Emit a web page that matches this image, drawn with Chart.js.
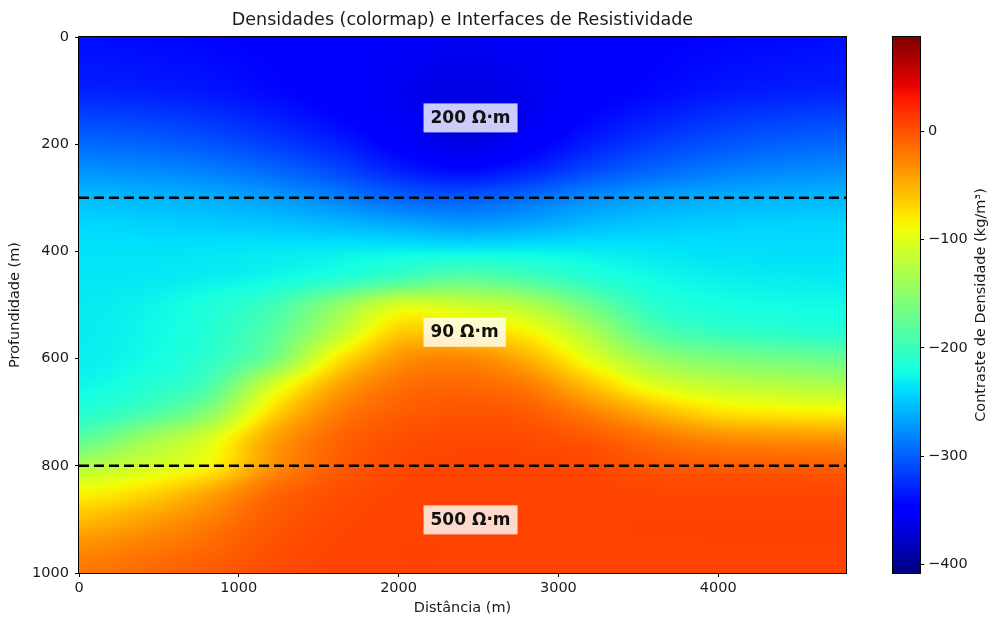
<!DOCTYPE html>
<html>
<head>
<meta charset="utf-8">
<script src="https://cdn.jsdelivr.net/npm/chart.js@4.4.1/dist/chart.umd.min.js"></script>
<style>
  html, body { margin: 0; padding: 0; background: #fff; }
  #wrap { position: relative; width: 992px; height: 617px; }
  #main { position: absolute; left: 0; top: 0; }
  #cbar { position: absolute; left: 880px; top: 0; }
</style>
</head>
<body>
<div id="wrap">
  <canvas id="main" width="992" height="617"></canvas>
  <canvas id="cbar" width="112" height="617"></canvas>
</div>
<script>
// grid positions (m)
const distCols = [0, 400, 800, 1200, 1600, 2000, 2400, 2800, 3200, 3600, 4000, 4400, 4800];
const depthRows = [0, 50, 100, 150, 200, 250, 300, 350, 400, 450, 500, 550, 600, 650, 700, 750, 800, 850, 900, 950, 1000];

// density contrast (kg/m3), one row per depth
const density = [
  [-340, -342, -345, -348, -352, -355, -358, -356, -352, -348, -345, -342, -340],
  [-336, -338, -341, -346, -352, -357, -361, -358, -352, -346, -341, -338, -336],
  [-330, -332, -336, -343, -351, -359, -365, -360, -351, -343, -336, -332, -330],
  [-313, -316, -322, -332, -344, -356, -367, -360, -344, -332, -322, -316, -313],
  [-295, -298, -305, -316, -330, -350, -365, -352, -332, -316, -306, -299, -296],
  [-275, -278, -284, -295, -310, -330, -342, -330, -310, -296, -286, -280, -277],
  [-255, -258, -262, -270, -283, -298, -302, -293, -278, -268, -262, -259, -258],
  [-242, -244, -247, -250, -256, -263, -270, -265, -255, -249, -246, -244, -243],
  [-236, -236, -235, -233, -231, -229, -229, -229, -231, -234, -237, -238, -238],
  [-234, -233, -230, -225, -214, -196, -180, -192, -212, -224, -229, -231, -232],
  [-232, -228, -218, -198, -152, -106, -112, -127, -170, -210, -220, -223, -224],
  [-231, -226, -214, -184, -126, -66, -70, -85, -132, -185, -203, -209, -214],
  [-230, -224, -208, -168, -83, -36, -28, -50, -98, -143, -160, -167, -173],
  [-226, -215, -192, -110, -47, -17, -12, -22, -59, -100, -118, -125, -131],
  [-213, -194, -156, -74, -25, -7, -2, -5, -25, -52, -75, -82, -85],
  [-180, -142, -106, -44, -12, 1, 4, 3, -3, -17, -29, -33, -35],
  [-130, -110, -88, -35, -7, 4, 7, 7, 5, -2, -5, -6, -7],
  [-87, -72, -46, -13, 1, 6, 7, 7, 7, 6, 5, 5, 5],
  [-57, -43, -25, -5, 4, 7, 8, 8, 8, 8, 8, 8, 8],
  [-32, -23, -13, 0, 6, 8, 8, 8, 8, 8, 8, 8, 8],
  [-20, -13, -5, 3, 7, 8, 8, 8, 8, 8, 8, 8, 8]
];

// resistivity interfaces and layer labels
const interfaces = [300, 800];
const layerLabels = ['200 Ω·m', '90 Ω·m', '500 Ω·m'];
const labelDepths = [150, 550, 900];
const labelDist = 2200;

// axes
const xMax = 4800;
const yMax = 1000;
const xTicks = [0, 1000, 2000, 3000, 4000];
const yTicks = [0, 200, 400, 600, 800, 1000];
const cbMin = -408;
const cbMax = 87;
const cbTicks = [0, -100, -200, -300, -400];

Chart.defaults.font.family = "'DejaVu Sans', sans-serif";
Chart.defaults.color = '#1a1a1a';

// matplotlib "jet"
function lerpSeg(f, xs, ys) {
  for (let i = 0; i < xs.length - 1; i++) {
    if (f <= xs[i + 1]) {
      const t = (f - xs[i]) / (xs[i + 1] - xs[i]);
      return ys[i] + t * (ys[i + 1] - ys[i]);
    }
  }
  return ys[ys.length - 1];
}
function jet(f) {
  f = Math.max(0, Math.min(1, f));
  const r = lerpSeg(f, [0, 0.35, 0.66, 0.89, 1], [0, 0, 1, 1, 0.5]);
  const g = lerpSeg(f, [0, 0.125, 0.375, 0.64, 0.91, 1], [0, 0, 1, 1, 0, 0]);
  const b = lerpSeg(f, [0, 0.11, 0.34, 0.65, 1], [0.5, 1, 1, 0, 0]);
  return [Math.round(r * 255), Math.round(g * 255), Math.round(b * 255)];
}

function locate(arr, v) {
  const n = arr.length - 1;
  if (v <= arr[0]) return [0, 0];
  if (v >= arr[n]) return [n - 1, 1];
  let i = 0;
  while (arr[i + 1] < v) i++;
  return [i, (v - arr[i]) / (arr[i + 1] - arr[i])];
}

// smooth (catmull-rom) lookup between grid samples, like imshow smoothing
function cr(p0, p1, p2, p3, t) {
  return 0.5 * (2 * p1 + (-p0 + p2) * t + (2 * p0 - 5 * p1 + 4 * p2 - p3) * t * t + (-p0 + 3 * p1 - 3 * p2 + p3) * t * t * t);
}
function cell(j, i) {
  j = Math.max(0, Math.min(depthRows.length - 1, j));
  i = Math.max(0, Math.min(distCols.length - 1, i));
  return density[j][i];
}
function sampleGrid(xv, dv) {
  const [i, tx] = locate(distCols, xv);
  const [j, ty] = locate(depthRows, dv);
  const rows = [];
  for (let r = -1; r <= 2; r++) {
    rows.push(cr(cell(j + r, i - 1), cell(j + r, i), cell(j + r, i + 1), cell(j + r, i + 2), tx));
  }
  return cr(rows[0], rows[1], rows[2], rows[3], ty);
}

const fieldPlugin = {
  id: 'field',
  beforeDatasetsDraw(chart) {
    const { ctx, chartArea: a, scales: { x, y } } = chart;
    const w = Math.round(a.right - a.left);
    const h = Math.round(a.bottom - a.top);
    const off = document.createElement('canvas');
    off.width = w;
    off.height = h;
    const octx = off.getContext('2d');
    const img = octx.createImageData(w, h);
    const xv = [];
    for (let i = 0; i < w; i++) xv.push(x.getValueForPixel(a.left + i + 0.5));
    for (let j = 0; j < h; j++) {
      const dv = y.getValueForPixel(a.top + j + 0.5);
      for (let i = 0; i < w; i++) {
        const v = sampleGrid(xv[i], dv);
        const c = jet((v - cbMin) / (cbMax - cbMin));
        const k = (j * w + i) * 4;
        img.data[k] = c[0];
        img.data[k + 1] = c[1];
        img.data[k + 2] = c[2];
        img.data[k + 3] = 255;
      }
    }
    octx.putImageData(img, 0, 0);
    ctx.drawImage(off, a.left, a.top);
  },
  afterDatasetsDraw(chart) {
    const { ctx, scales: { x, y } } = chart;
    ctx.save();
    ctx.font = "bold 17px 'DejaVu Sans', sans-serif";
    ctx.textBaseline = 'middle';
    layerLabels.forEach((txt, i) => {
      const px = x.getPixelForValue(labelDist);
      const py = y.getPixelForValue(labelDepths[i]);
      const tw = ctx.measureText(txt).width;
      ctx.fillStyle = 'rgba(255,255,255,0.8)';
      ctx.fillRect(px - 7, py - 14, tw + 14, 29);
      ctx.fillStyle = '#111';
      ctx.fillText(txt, px, py + 1);
    });
    ctx.restore();
  },
  afterDraw(chart) {
    const { ctx, chartArea: a } = chart;
    ctx.save();
    ctx.strokeStyle = '#000';
    ctx.lineWidth = 1;
    ctx.strokeRect(a.left - 0.5, a.top - 0.5, a.right - a.left + 1, a.bottom - a.top + 1);
    ctx.restore();
  }
};

new Chart(document.getElementById('main'), {
  type: 'scatter',
  data: {
    datasets: interfaces.map(d => ({
      data: [{ x: 0, y: d }, { x: xMax, y: d }],
      showLine: true,
      borderColor: '#000',
      borderWidth: 2.5,
      borderDash: [10, 5],
      pointRadius: 0
    }))
  },
  options: {
    responsive: false,
    devicePixelRatio: 1,
    animation: false,
    layout: { padding: { left: 0, top: 0, right: 146, bottom: 0 } },
    plugins: {
      legend: { display: false },
      tooltip: { enabled: false },
      title: {
        display: true,
        fullSize: false,
        text: 'Densidades (colormap) e Interfaces de Resistividade',
        color: '#1a1a1a',
        font: { size: 17.5, weight: 'normal', lineHeight: 1.2 },
        padding: { top: 9.5, bottom: 6.5 }
      }
    },
    scales: {
      x: {
        type: 'linear',
        min: 0,
        max: xMax,
        afterBuildTicks: s => { s.ticks = xTicks.map(v => ({ value: v })); },
        afterFit: s => { s.height = 44; },
        ticks: { font: { size: 14.5 }, padding: 3, maxRotation: 0, callback: v => String(v) },
        grid: { drawOnChartArea: false, drawTicks: true, tickLength: 4, color: '#000' },
        border: { display: false },
        title: { display: true, text: 'Distância (m)', font: { size: 14.5 }, padding: { top: 0, bottom: 0 } }
      },
      y: {
        type: 'linear',
        reverse: true,
        min: 0,
        max: yMax,
        afterBuildTicks: s => { s.ticks = yTicks.map(v => ({ value: v })); },
        afterFit: s => { s.width = 79; },
        ticks: { font: { size: 14.5 }, padding: 6, callback: v => String(v) },
        grid: { drawOnChartArea: false, drawTicks: true, tickLength: 4, color: '#000' },
        border: { display: false },
        title: { display: true, text: 'Profundidade (m)', font: { size: 14.5 }, padding: { top: 7, bottom: 0 } }
      }
    }
  },
  plugins: [fieldPlugin]
});

// colorbar
const cbarPlugin = {
  id: 'cbar',
  beforeDatasetsDraw(chart) {
    const { ctx, chartArea: a, scales: { y } } = chart;
    for (let j = Math.floor(a.top); j < Math.ceil(a.bottom); j++) {
      const v = y.getValueForPixel(j + 0.5);
      const c = jet((v - cbMin) / (cbMax - cbMin));
      ctx.fillStyle = 'rgb(' + c.join(',') + ')';
      ctx.fillRect(a.left, j, a.right - a.left, 1);
    }
  },
  afterDraw(chart) {
    const { ctx, chartArea: a } = chart;
    ctx.save();
    ctx.strokeStyle = '#000';
    ctx.lineWidth = 1;
    ctx.strokeRect(a.left - 0.5, a.top - 0.5, a.right - a.left + 1, a.bottom - a.top + 1);
    ctx.translate(101, (a.top + a.bottom) / 2);
    ctx.rotate(-Math.PI / 2);
    ctx.fillStyle = '#1a1a1a';
    ctx.font = "14.5px 'DejaVu Sans', sans-serif";
    ctx.textAlign = 'center';
    ctx.textBaseline = 'middle';
    ctx.fillText('Contraste de Densidade (kg/m³)', 0, 0);
    ctx.restore();
  }
};

new Chart(document.getElementById('cbar'), {
  type: 'scatter',
  data: { datasets: [] },
  options: {
    responsive: false,
    devicePixelRatio: 1,
    animation: false,
    layout: { padding: { left: 13, top: 37, right: 0, bottom: 44 } },
    plugins: { legend: { display: false }, tooltip: { enabled: false } },
    scales: {
      x: { type: 'linear', display: false, min: 0, max: 1 },
      y: {
        type: 'linear',
        position: 'right',
        min: cbMin,
        max: cbMax,
        afterBuildTicks: s => { s.ticks = cbTicks.map(v => ({ value: v })); },
        afterFit: s => { s.width = 72; },
        ticks: { font: { size: 14.5 }, padding: 4, callback: v => v < 0 ? '\u2212' + Math.abs(v) : String(v) },
        grid: { drawOnChartArea: false, drawTicks: true, tickLength: 4, color: '#000' },
        border: { display: false }
      }
    }
  },
  plugins: [cbarPlugin]
});
</script>
</body>
</html>
